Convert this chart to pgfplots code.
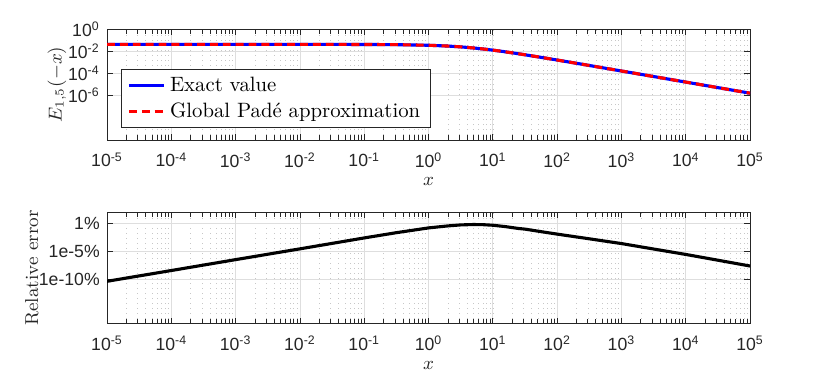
\documentclass[border=0pt]{standalone}
\usepackage{fontspec}
\usepackage{pgfplots}
\pgfplotsset{compat=1.18}
\newfontfamily\ticksf{Liberation Sans}
\definecolor{axgray}{RGB}{38,38,38}

\begin{document}
\begin{tikzpicture}

\begin{loglogaxis}[
  at={(0,0)}, anchor=south west,
  log basis x=10, log basis y=10,
  scale only axis, width=309.9pt, height=53.5pt,
  xmin=1e-5, xmax=1e5, ymin=1e-10, ymax=1,
  axis line style={draw=axgray, line width=0.5pt},
  tick style={draw=axgray, line width=0.4pt},
  major tick length=2.8pt, minor tick length=2.2pt,
  tick align=inside, xtick pos=both, ytick pos=both,
  grid=both,
  major grid style={draw=black!13, line width=0.4pt},
  minor grid style={draw=black!22, dotted, line width=0.3pt},
  ticklabel style={font=\fontsize{8.5}{10}\ticksf, text=axgray},
  xticklabel style={yshift=-2.5pt},
  xticklabel={10\textsuperscript{\pgfmathprintnumber[fixed,precision=0,assume math mode=true]{\tick}}},
  ytick={1e-6,1e-4,1e-2,1},
  yticklabel={10\textsuperscript{\pgfmathprintnumber[fixed,precision=0,assume math mode=true]{\tick}}},
  label style={font=\fontsize{9}{11}\selectfont, text=axgray},
  xlabel={$x$},
  xlabel style={at={(axis description cs:0.5,0)}, anchor=center, yshift=-20pt},
  ylabel={$E_{1,5}(-x)$},
  ylabel style={at={(axis description cs:-0.078,0.5)}, anchor=center},
  legend cell align=left,
  legend style={at={(axis description cs:0.0213,0.11)}, anchor=south west,
    font=\fontsize{10}{12}\selectfont, draw=axgray,
    inner xsep=3pt, inner ysep=1.5pt},
]
\addplot[blue, line width=1.5pt] coordinates {
  (1e-5,0.0416666) (1e-4,0.0416658) (1e-3,0.0416583) (1e-2,0.041583)
  (1e-1,0.040847) (0.316228,0.039165) (1,0.034546) (2,0.029292)
  (3.162278,0.024745) (5,0.019744) (7.079458,0.015988) (10,0.012567)
  (14.125375,0.0096223) (20,0.0072021) (31.622777,0.0048009)
  (56.234133,0.0028115) (100,0.0016177) (316.227766,5.2209e-4)
  (1000,1.66167e-4) (3162.27766,5.2656e-5) (1e4,1.66617e-5)
  (31622.7766,5.2700e-6) (1e5,1.66662e-6)
};
\addlegendentry{Exact value}
\addplot[red, line width=1.5pt, dash pattern=on 3.8pt off 2.4pt] coordinates {
  (1e-5,0.0416666) (1e-4,0.0416658) (1e-3,0.0416583) (1e-2,0.041583)
  (1e-1,0.040847) (0.316228,0.039165) (1,0.034546) (2,0.029292)
  (3.162278,0.024745) (5,0.019744) (7.079458,0.015988) (10,0.012567)
  (14.125375,0.0096223) (20,0.0072021) (31.622777,0.0048009)
  (56.234133,0.0028115) (100,0.0016177) (316.227766,5.2209e-4)
  (1000,1.66167e-4) (3162.27766,5.2656e-5) (1e4,1.66617e-5)
  (31622.7766,5.2700e-6) (1e5,1.66662e-6)
};
\addlegendentry{Global Padé approximation}
\end{loglogaxis}

\begin{loglogaxis}[
  at={(0,-88.4pt)}, anchor=south west,
  log basis x=10, log basis y=10,
  scale only axis, width=309.9pt, height=53.5pt,
  xmin=1e-5, xmax=1e5, ymin=1e-18, ymax=1e2,
  axis line style={draw=axgray, line width=0.5pt},
  tick style={draw=axgray, line width=0.4pt},
  major tick length=2.8pt, minor tick length=2.2pt,
  tick align=inside, xtick pos=both, ytick pos=both,
  grid=both,
  major grid style={draw=black!13, line width=0.4pt},
  minor grid style={draw=black!22, dotted, line width=0.3pt},
  ticklabel style={font=\fontsize{8.5}{10}\ticksf, text=axgray},
  xticklabel style={yshift=-2.5pt},
  xticklabel={10\textsuperscript{\pgfmathprintnumber[fixed,precision=0,assume math mode=true]{\tick}}},
  ytick={1e-10,1e-5,1},
  yticklabels={1e-10\%,1e-5\%,1\%},
  label style={font=\fontsize{9}{11}\selectfont, text=axgray},
  xlabel={$x$},
  xlabel style={at={(axis description cs:0.5,0)}, anchor=center, yshift=-20pt},
  ylabel={Relative error},
  ylabel style={at={(axis description cs:-0.117,0.5)}, anchor=center},
]
\addplot[black, line width=1.5pt] coordinates {
  (1e-5,4.0e-11) (1e-4,3.5e-9) (1e-3,3.2e-7) (1e-2,2.8e-5)
  (1e-1,2.6e-3) (0.316228,2.3e-2) (1,0.166) (1.995262,0.38)
  (3.162278,0.575) (5.011872,0.676) (7.079458,0.63) (10,0.50)
  (15.848932,0.28) (25.118864,0.13) (31.622777,0.10) (56.234133,0.035)
  (100,0.0126) (316.227766,1.8e-3) (1000,2.5e-4) (3162.27766,2.6e-5)
  (1e4,2.75e-6) (31622.7766,2.5e-7) (1e5,2.25e-8)
};
\end{loglogaxis}

\pgfresetboundingbox
\path[use as bounding box] (-51.6pt,-119pt) rectangle (348.4pt,67.5pt);
\end{tikzpicture}
\end{document}
